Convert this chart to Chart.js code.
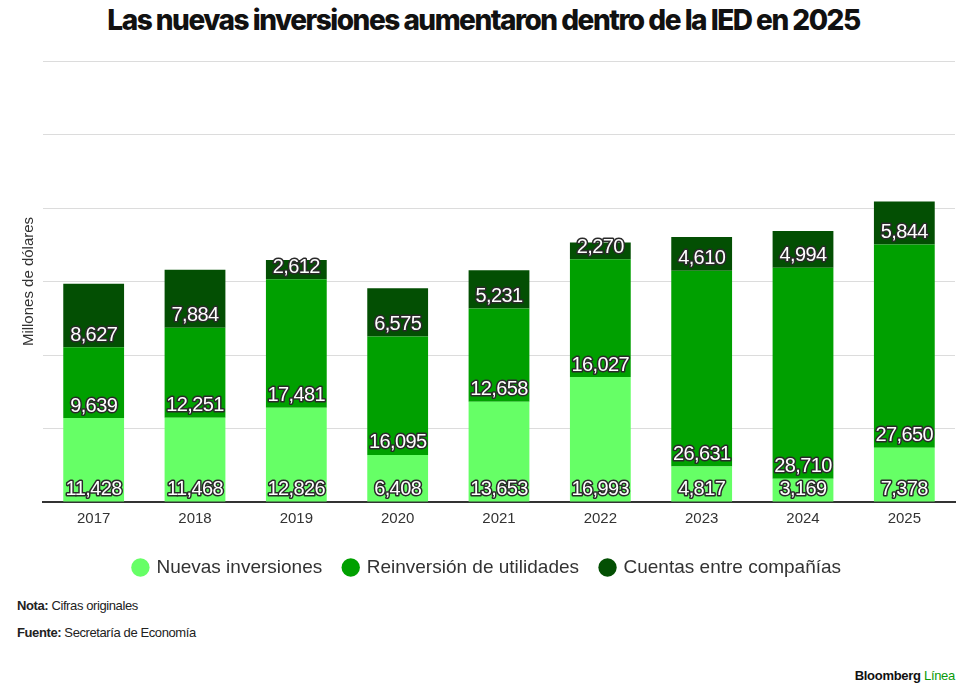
<!DOCTYPE html>
<html>
<head>
<meta charset="utf-8">
<script src="https://cdn.jsdelivr.net/npm/chart.js@4"></script>
<style>
  body { margin: 0; background: #fff; font-family: 'Liberation Sans', Arial, sans-serif; color: #222; }
  #page { position: relative; width: 967px; height: 694px; overflow: hidden; }
  #title { position: absolute; top: 3px; left: 0; width: 967px; text-align: center; font: 800 28px Inter, sans-serif; letter-spacing: -1.5px; color: #111; }
  #wrap { position: absolute; top: 40px; left: 0; width: 967px; height: 550px; }
  .note { position: absolute; left: 17px; font-size: 13px; letter-spacing: -0.4px; color: #222; }
  .note b { font-weight: 700; }
  #brand { position: absolute; right: 12px; top: 668px; font: 700 13px 'Liberation Sans', Arial, sans-serif; letter-spacing: -0.3px; color: #111; }
  #brand span { color: #0a9a0a; font-weight: 400; }
</style>
</head>
<body>
<div id="page">
  <div id="title">Las nuevas inversiones aumentaron dentro de la IED en 2025</div>
  <div id="wrap"><canvas id="chart"></canvas></div>
  <div class="note" style="top:598px"><b>Nota:</b> Cifras originales</div>
  <div class="note" style="top:625px"><b>Fuente:</b> Secretaría de Economía</div>
  <div id="brand">Bloomberg <span>Línea</span></div>
</div>
<script>
// years on the x axis
const years = ['2017', '2018', '2019', '2020', '2021', '2022', '2023', '2024', '2025'];

// millones de dólares
const nuevasInversiones = [11428, 11468, 12826, 6408, 13653, 16993, 4817, 3169, 7378];
const reinversionUtilidades = [9639, 12251, 17481, 16095, 12658, 16027, 26631, 28710, 27650];
const cuentasCompanias = [8627, 7884, 2612, 6575, 5231, 2270, 4610, 4994, 5844];

const seriesNames = ['Nuevas inversiones', 'Reinversión de utilidades', 'Cuentas entre compañías'];
const seriesColors = ['#66ff66', '#00a000', '#034f03'];

// draws the value at the bottom of every segment, white text with dark outline
const segmentLabels = {
  id: 'segmentLabels',
  afterDatasetsDraw(chart) {
    const ctx = chart.ctx;
    ctx.save();
    ctx.font = '20px "Liberation Sans", Arial, sans-serif';
    ctx.letterSpacing = '-0.6px';
    ctx.textAlign = 'center';
    ctx.textBaseline = 'middle';
    ctx.lineJoin = 'round';
    chart.data.datasets.forEach((ds, i) => {
      const meta = chart.getDatasetMeta(i);
      meta.data.forEach((bar, j) => {
        const txt = ds.data[j].toLocaleString('en-US');
        const y = bar.base - 12;
        ctx.lineWidth = 3;
        ctx.strokeStyle = '#2a2a2a';
        ctx.strokeText(txt, bar.x, y);
        ctx.fillStyle = '#fff';
        ctx.fillText(txt, bar.x, y);
      });
    });
    ctx.restore();
  }
};

new Chart(document.getElementById('chart'), {
  type: 'bar',
  data: {
    labels: years,
    datasets: [
      { label: seriesNames[0], data: nuevasInversiones, backgroundColor: seriesColors[0] },
      { label: seriesNames[1], data: reinversionUtilidades, backgroundColor: seriesColors[1] },
      { label: seriesNames[2], data: cuentasCompanias, backgroundColor: seriesColors[2] }
    ]
  },
  options: {
    responsive: true,
    maintainAspectRatio: false,
    animation: false,
    categoryPercentage: 1,
    barPercentage: 0.6,
    layout: { padding: { top: 21, right: 12, left: 20, bottom: 3 } },
    plugins: {
      tooltip: { enabled: false },
      legend: {
        position: 'bottom',
        labels: {
          usePointStyle: true,
          pointStyle: 'circle',
          boxWidth: 13,
          boxHeight: 13,
          padding: 22,
          color: '#333',
          font: { size: 19, family: '"Liberation Sans", Arial, sans-serif' }
        }
      }
    },
    scales: {
      x: {
        stacked: true,
        grid: { display: false },
        border: { color: '#333', width: 2 },
        ticks: { color: '#333', font: { size: 15, family: '"Liberation Sans", Arial, sans-serif' }, padding: 0 },
        afterFit(scale) { scale.height += 8; }
      },
      y: {
        stacked: true,
        min: 0,
        max: 60000,
        ticks: { display: false, stepSize: 10000 },
        grid: { color: '#dcdcdc', drawTicks: false },
        border: { display: false },
        title: {
          display: true,
          text: 'Millones de dólares',
          color: '#333',
          font: { size: 15, family: '"Liberation Sans", Arial, sans-serif' },
          padding: 0
        },
        afterFit(scale) { scale.width = 23; }
      }
    }
  },
  plugins: [segmentLabels]
});
</script>
</body>
</html>
